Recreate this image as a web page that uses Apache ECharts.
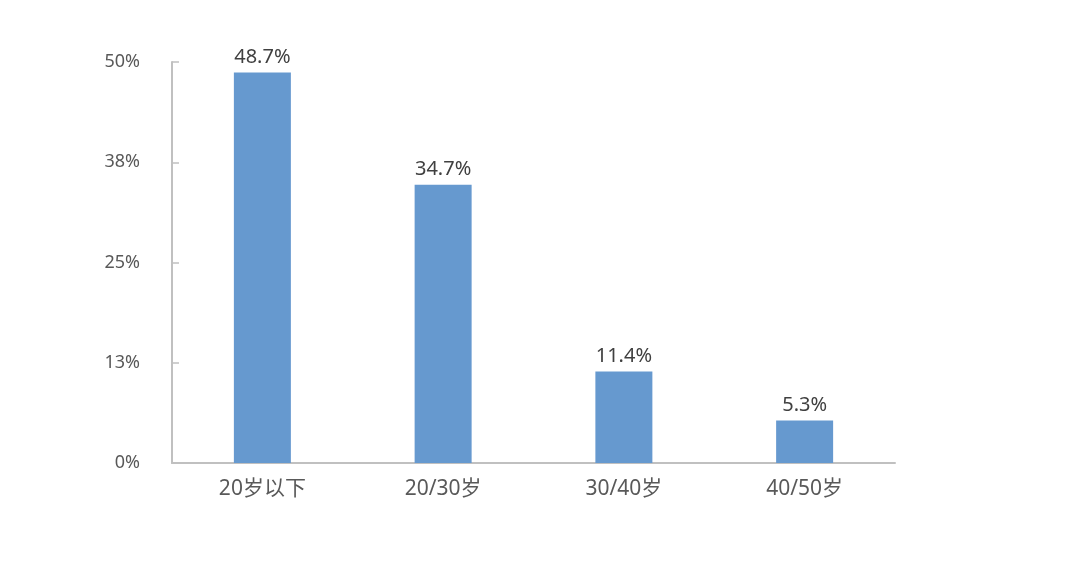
<!DOCTYPE html>
<html><head><meta charset="utf-8">
<script src="https://cdn.jsdelivr.net/npm/echarts@6/dist/echarts.min.js"></script>
<style>html,body{margin:0;padding:0;background:#fff}#c{width:1080px;height:565px}</style>
</head><body><div id="c"></div>
<script>
const categories = ['20岁以下', '20/30岁', '30/40岁', '40/50岁'];
const values = [48.7, 34.7, 11.4, 5.3];
const yTicks = [0, 12.5, 25, 37.5, 50];

const font = "'Noto Sans', 'Noto Sans CJK SC', sans-serif";
const chart = echarts.init(document.getElementById('c'));
chart.setOption({
  animation: false,
  grid: { left: 172, right: 185, top: 62, bottom: 102, containLabel: false },
  xAxis: {
    type: 'category', data: categories,
    axisLine: { lineStyle: { color: '#c0c0c0', width: 2 } },
    axisTick: { show: false },
    axisLabel: { color: '#595959', fontSize: 21, fontFamily: font, margin: 16 }
  },
  yAxis: {
    type: 'value', min: 0, max: 50, interval: 12.5,
    axisLine: { show: true, lineStyle: { color: '#c0c0c0', width: 2 } },
    axisTick: { show: true, inside: true, length: 7, lineStyle: { color: '#c0c0c0', width: 1.5 } },
    splitLine: { show: false },
    axisLabel: { color: '#595959', fontSize: 18, fontFamily: font, margin: 32,
      formatter: v => Math.round(v) + '%' }
  },
  series: [{
    type: 'bar', data: values, barWidth: 57,
    itemStyle: { color: '#6699cf' },
    label: { show: true, position: 'top', distance: 5, color: '#404040', fontSize: 20, fontFamily: font,
      formatter: p => p.value.toFixed(1) + '%' }
  }]
});
</script></body></html>
